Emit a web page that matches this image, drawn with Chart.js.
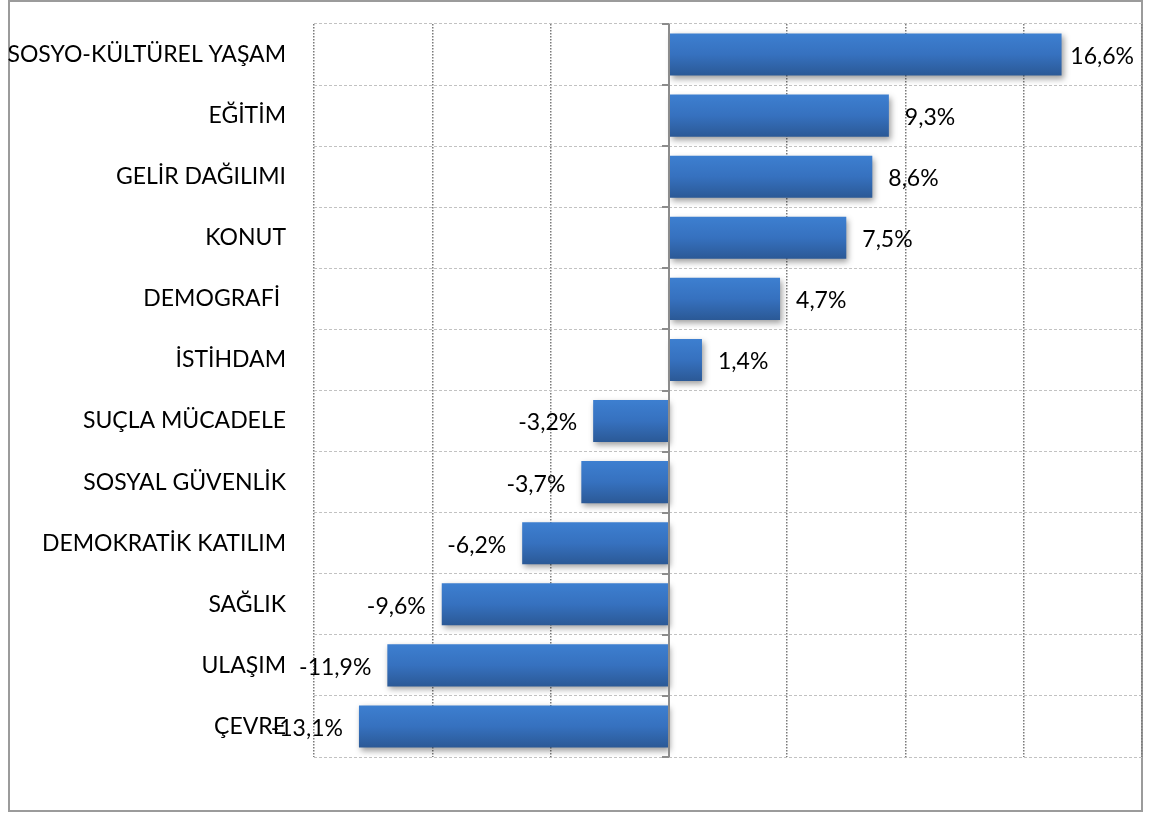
<!DOCTYPE html>
<html>
<head>
<meta charset="utf-8">
<script src="https://cdn.jsdelivr.net/npm/chart.js@4/dist/chart.umd.min.js"></script>
<style>
  body { margin: 0; background: #fff; }
  canvas { display: block; }
</style>
</head>
<body>
<canvas id="barChart" width="1154" height="814"></canvas>
<script>
// category labels, top to bottom
const categories = [
  "SOSYO-KÜLTÜREL YAŞAM",
  "EĞİTİM",
  "GELİR DAĞILIMI",
  "KONUT",
  "DEMOGRAFİ ",
  "İSTİHDAM",
  "SUÇLA MÜCADELE",
  "SOSYAL GÜVENLİK",
  "DEMOKRATİK KATILIM",
  "SAĞLIK",
  "ULAŞIM",
  "ÇEVRE"
];

// change, percent
const changes = [16.6, 9.3, 8.6, 7.5, 4.7, 1.4, -3.2, -3.7, -6.2, -9.6, -11.9, -13.1];

// value axis range
const axisMin = -15;
const axisMax = 20;
const axisStep = 5;

const FONT = "Lato";
const FONT_SIZE = 23;

function fmtPct(v) {
  return v.toFixed(1).replace(".", ",") + "%";
}

// outer frame of the chart
const framePlugin = {
  id: "frame",
  beforeDraw(chart) {
    const ctx = chart.ctx;
    ctx.save();
    ctx.strokeStyle = "#9b9b9b";
    ctx.lineWidth = 2;
    ctx.strokeRect(9, 1, 1133, 810);
    ctx.restore();
  }
};

// soft drop shadow under the bars
const shadowPlugin = {
  id: "barShadow",
  beforeDatasetDraw(chart) {
    const ctx = chart.ctx;
    ctx.save();
    ctx.shadowColor = "rgba(0,0,0,0.38)";
    ctx.shadowBlur = 6;
    ctx.shadowOffsetX = 2;
    ctx.shadowOffsetY = 3;
  },
  afterDatasetDraw(chart) {
    chart.ctx.restore();
  }
};

// solid zero axis with small tick marks between categories
const zeroAxisPlugin = {
  id: "zeroAxis",
  afterDatasetsDraw(chart) {
    const ctx = chart.ctx;
    const x0 = Math.round(chart.scales.x.getPixelForValue(0));
    const y = chart.scales.y;
    const area = chart.chartArea;
    ctx.save();
    ctx.strokeStyle = "#8c8c8c";
    ctx.lineWidth = 2;
    ctx.beginPath();
    ctx.moveTo(x0, area.top);
    ctx.lineTo(x0, area.bottom);
    for (let i = 0; i <= categories.length; i++) {
      const yy = Math.round(y.getPixelForValue(i - 0.5));
      ctx.moveTo(x0 - 7, yy);
      ctx.lineTo(x0, yy);
    }
    ctx.stroke();
    ctx.restore();
  }
};

// value labels at the end of each bar
const valueLabelPlugin = {
  id: "valueLabels",
  afterDatasetsDraw(chart) {
    const ctx = chart.ctx;
    const area = chart.chartArea;
    const meta = chart.getDatasetMeta(0);
    ctx.save();
    ctx.font = FONT_SIZE + "px " + FONT;
    ctx.fillStyle = "#000";
    ctx.textBaseline = "middle";
    meta.data.forEach((bar, i) => {
      const v = changes[i];
      const txt = fmtPct(v);
      const w = ctx.measureText(txt).width;
      let x;
      if (v >= 0) {
        x = bar.x + 16;
        if (x + w > area.right - 8) x = area.right - 8 - w;
        ctx.textAlign = "left";
      } else {
        x = bar.x - 16;
        ctx.textAlign = "right";
      }
      ctx.fillText(txt, x, bar.y + 2);
    });
    ctx.restore();
  }
};

function barGradient(context) {
  const chart = context.chart;
  const y = chart.scales.y;
  if (!y || !chart.chartArea) return "#3670bd";
  const c = y.getPixelForValue(context.dataIndex);
  const h = 21;
  const g = chart.ctx.createLinearGradient(0, c - h, 0, c + h);
  g.addColorStop(0, "#3d7fd0");
  g.addColorStop(0.5, "#3671bf");
  g.addColorStop(1, "#2b5996");
  return g;
}

new Chart(document.getElementById("barChart"), {
  type: "bar",
  data: {
    labels: categories,
    datasets: [
      {
        data: changes,
        backgroundColor: barGradient,
        borderWidth: 0,
        barPercentage: 0.69,
        categoryPercentage: 1
      }
    ]
  },
  options: {
    indexAxis: "y",
    responsive: false,
    animation: false,
    events: [],
    layout: {
      padding: { left: 0, right: 12, top: 24, bottom: 57 }
    },
    plugins: {
      legend: { display: false },
      tooltip: { enabled: false }
    },
    scales: {
      x: {
        min: axisMin,
        max: axisMax,
        ticks: { display: false, stepSize: axisStep },
        grid: { color: "#7a7a7a", lineWidth: 1.5, drawTicks: false },
        border: { display: false, dash: [1.5, 1.5] },
        afterFit(scale) { scale.height = 0; }
      },
      y: {
        ticks: {
          color: "#000",
          font: { family: FONT, size: FONT_SIZE },
          padding: 28
        },
        grid: { color: "#c2c2c2", lineWidth: 1, drawTicks: false },
        border: { display: false, dash: [3, 2] },
        afterFit(scale) {
          scale.width = 314;
          // labels sit inside their rows, no extra room above/below
          scale.paddingTop = 0;
          scale.paddingBottom = 0;
        }
      }
    }
  },
  plugins: [framePlugin, shadowPlugin, zeroAxisPlugin, valueLabelPlugin]
});
</script>
</body>
</html>
